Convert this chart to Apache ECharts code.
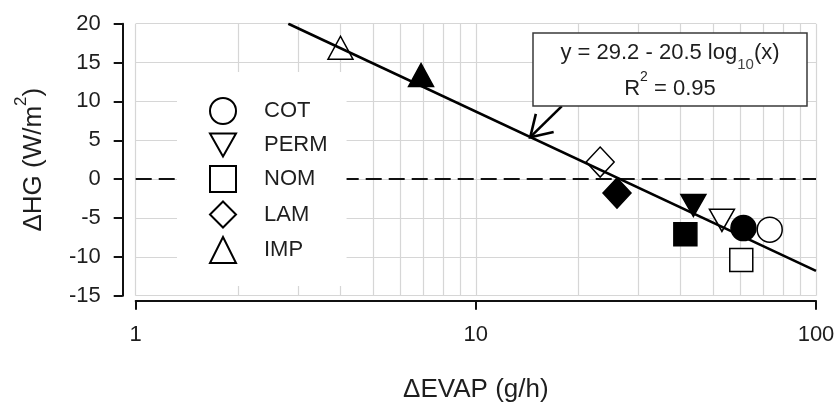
<!DOCTYPE html>
<html><head><meta charset="utf-8">
<script src="https://cdn.jsdelivr.net/npm/echarts@6/dist/echarts.min.js"></script>
<style>html,body{margin:0;padding:0;background:#fff}#c{width:837px;height:404px}</style>
</head><body><div id="c"></div>
<script>
// ---- data ----
const categories = ['COT', 'PERM', 'NOM', 'LAM', 'IMP'];
// each: [open marker point, filled marker point]  as [ΔEVAP, ΔHG]
const cotPoints  = [[73.1, -6.5], [61.2, -6.3]];
const permPoints = [[52.9, -5.3], [43.6, -3.4]];
const nomPoints  = [[60.3, -10.4], [41.3, -7.1]];
const lamPoints  = [[23.2, 2.2], [26.0, -1.8]];
const impPoints  = [[4.0, 16.9], [6.9, 13.4]];
const fitLine = [[2.81, 20], [100, -11.8]];
const arrowSegment = [[17.9, 9.4, 14.45, 5.4]];
const minorXGrid = [2, 3, 4, 5, 6, 7, 8, 9, 20, 30, 40, 50, 60, 70, 80, 90];
const zeroLine = 0;
const fitLabel1 = 'y = 29.2 - 20.5 log';
const fitLabel2 = 'R';

const FONT = 'Liberation Sans, Arial, sans-serif';
const TXT = '#1e1e1e';

function scatter(name, pts, symbol, size, rotate) {
  return {
    type: 'scatter', name: name, symbol: symbol, symbolSize: size, symbolRotate: rotate || 0,
    z: 2, silent: true,
    itemStyle: { color: '#fff', borderColor: '#000', borderWidth: 1.5, opacity: 1 },
    emphasis: { disabled: true },
    data: [
      { value: pts[0] },
      { value: pts[1], itemStyle: { color: '#000', borderColor: '#000' } }
    ]
  };
}

const chart = echarts.init(document.getElementById('c'), null, { renderer: 'canvas' });
chart.setOption({
  animation: false,
  backgroundColor: '#fff',
  textStyle: { fontFamily: FONT },
  grid: { left: 135.7, right: 21, top: 23.7, bottom: 108.3, containLabel: false, outerBoundsMode: 'none' },
  xAxis: {
    type: 'log', logBase: 10, min: 1, max: 100, offset: 5,
    name: 'ΔEVAP (g/h)', nameLocation: 'middle', nameGap: 76,
    nameTextStyle: { fontSize: 26, color: TXT, fontFamily: FONT },
    axisLine: { show: true, onZero: false, lineStyle: { color: '#111', width: 2 } },
    axisTick: { show: true, inside: false, length: 9, lineStyle: { color: '#111', width: 2 } },
    axisLabel: { fontSize: 22, color: TXT, margin: 23, fontFamily: FONT },
    splitLine: { show: true, lineStyle: { color: '#d6d6d6', width: 1.2 } },
    minorTick: { show: false }, minorSplitLine: { show: false }
  },
  yAxis: {
    type: 'value', min: -15, max: 20, interval: 5, offset: 13,
    name: '{a|ΔHG (W/m}{s|2}{a|)}', nameLocation: 'middle', nameGap: 76, nameRotate: 90,
    nameTextStyle: {
      fontSize: 26, color: TXT, fontFamily: FONT,
      rich: {
        a: { fontSize: 26, color: TXT, fontFamily: FONT, lineHeight: 34, verticalAlign: 'bottom' },
        s: { fontSize: 17, color: TXT, fontFamily: FONT, lineHeight: 34, verticalAlign: 'top' }
      }
    },
    axisLine: { show: true, onZero: false, lineStyle: { color: '#111', width: 2 } },
    axisTick: { show: true, inside: false, length: 9, lineStyle: { color: '#111', width: 2 } },
    axisLabel: { fontSize: 22, color: TXT, margin: 22, fontFamily: FONT },
    splitLine: { show: true, lineStyle: { color: '#d6d6d6', width: 1.2 } }
  },
  legend: {
    orient: 'vertical', left: 177, top: 72, padding: [25, 19, 22, 32],
    itemGap: 7.5, itemWidth: 26, itemHeight: 26,
    backgroundColor: '#fff', borderWidth: 0, selectedMode: false, z: 30,
    data: categories.map(n => n === 'PERM'
      ? { name: n, icon: 'path://M0,0 L26,0 L13,23 Z' } : { name: n }),
    textStyle: { fontSize: 22, color: TXT, fontFamily: FONT, padding: [0, 0, 0, 23] }
  },
  graphic: [
    { type: 'rect', z: 40, shape: { x: 533, y: 33, width: 274, height: 73 },
      style: { fill: '#fff', stroke: '#3a3a3a', lineWidth: 1.5 } },
    { type: 'text', z: 41, x: 670, y: 57,
      style: {
        text: '{a|' + fitLabel1 + '}{s|10}{a|(x)}', align: 'center', verticalAlign: 'middle',
        rich: {
          a: { fontSize: 22, fill: TXT, fontFamily: FONT, lineHeight: 30, verticalAlign: 'top' },
          s: { fontSize: 15, fill: '#444', fontFamily: FONT, lineHeight: 15, verticalAlign: 'bottom' }
        }
      } },
    { type: 'text', z: 41, x: 670, y: 85,
      style: {
        text: '{a|' + fitLabel2 + '}{s|2}{a| = 0.95}', align: 'center', verticalAlign: 'middle',
        rich: {
          a: { fontSize: 22, fill: TXT, fontFamily: FONT, lineHeight: 30, verticalAlign: 'bottom' },
          s: { fontSize: 14, fill: TXT, fontFamily: FONT, lineHeight: 14, verticalAlign: 'top' }
        }
      } }
  ],
  series: [
    { // gridlines and zero reference line
      type: 'line', data: [], z: 1, silent: true, symbol: 'none',
      markLine: {
        z: 1, silent: true, symbol: ['none', 'none'], animation: false, label: { show: false },
        data: minorXGrid.map(v => ({ xAxis: v, lineStyle: { color: '#d6d6d6', width: 1.2, type: 'solid' } }))
          .concat([{ yAxis: zeroLine, lineStyle: { color: '#111', width: 2, type: [16, 7] } }])
      }
    },
    scatter('COT', cotPoints, 'circle', 25),
    scatter('PERM', permPoints, 'triangle', [25, 22], 180),
    scatter('NOM', nomPoints, 'rect', 23),
    scatter('LAM', lamPoints, 'diamond', [28, 30]),
    scatter('IMP', impPoints, 'triangle', [25, 23]),
    { type: 'line', data: fitLine, z: 3, silent: true, symbol: 'none',
      lineStyle: { color: '#000', width: 2.6 } },
    { type: 'custom', data: arrowSegment, z: 4, silent: true, encode: { x: [0, 2], y: [1, 3] },
      renderItem: function (params, api) {
        const p0 = api.coord([api.value(0), api.value(1)]);
        const p1 = api.coord([api.value(2), api.value(3)]);
        const dx = p0[0] - p1[0], dy = p0[1] - p1[1];
        const L = Math.hypot(dx, dy), ux = dx / L, uy = dy / L;
        const ang = 32 * Math.PI / 180, len = 24;
        const arm = a => [p1[0] + len * (ux * Math.cos(a) - uy * Math.sin(a)),
                          p1[1] + len * (ux * Math.sin(a) + uy * Math.cos(a))];
        return { type: 'group', children: [
          { type: 'line', shape: { x1: p0[0], y1: p0[1], x2: p1[0], y2: p1[1] },
            style: { stroke: '#000', lineWidth: 2.6 } },
          { type: 'polyline', shape: { points: [arm(ang), p1, arm(-ang)] },
            style: { stroke: '#000', lineWidth: 2.6, fill: null } }
        ] };
      } }
  ]
});
</script></body></html>
